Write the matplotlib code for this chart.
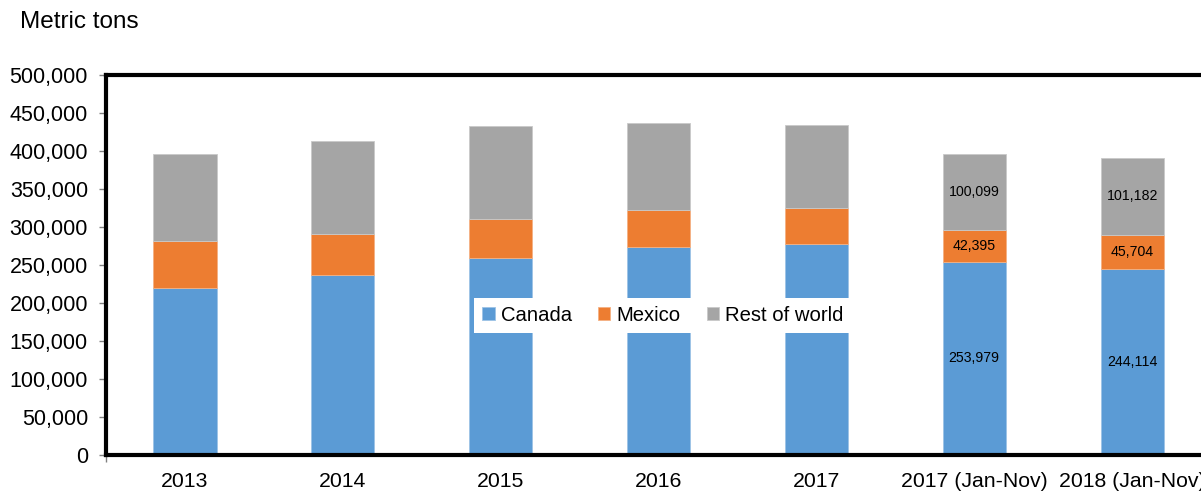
import numpy as np
from matplotlib import pyplot as plt

plt.rcParams['font.family'] = ['Liberation Sans', 'DejaVu Sans']

categories = ['2013', '2014', '2015', '2016', '2017', '2017 (Jan-Nov)', '2018 (Jan-Nov)']
canada = [219800, 236900, 259300, 273700, 277700, 253979, 244114]
mexico = [61800, 53900, 51300, 48700, 47300, 42395, 45704]
rest = [114500, 122400, 122400, 114500, 109300, 100099, 101182]
labelled = [5, 6]

colors = ['#5B9BD5', '#ED7D31', '#A5A5A5']

fig = plt.figure(figsize=(12.01, 4.93), dpi=100)
ax = fig.add_axes([106/1201, 1-455/493, 1105/1201, 380/493])

x = np.arange(len(categories))
w = 0.4
ax.bar(x, canada, w, color=colors[0], label='Canada', edgecolor='#9DC3E6', linewidth=0.6)
ax.bar(x, mexico, w, bottom=canada, color=colors[1], label='Mexico', edgecolor='#F4B183', linewidth=0.6)
bottom2 = np.array(canada) + np.array(mexico)
ax.bar(x, rest, w, bottom=bottom2, color=colors[2], label='Rest of world', edgecolor='#C9C9C9', linewidth=0.6)

for i in labelled:
    ax.text(x[i], canada[i] / 2, f'{canada[i]:,}', ha='center', va='center', fontsize=10.2)
    ax.text(x[i], canada[i] + mexico[i] / 2, f'{mexico[i]:,}', ha='center', va='center', fontsize=10.2)
    ax.text(x[i], bottom2[i] + rest[i] / 2, f'{rest[i]:,}', ha='center', va='center', fontsize=10.2)

ax.set_xlim(-0.5, len(categories) - 0.5)
ax.set_ylim(0, 500000)
ax.set_yticks(np.arange(0, 500001, 50000))
ax.yaxis.set_major_formatter(plt.FuncFormatter(lambda v, p: f'{int(v):,}'))
ax.set_xticks(x)
ax.set_xticklabels(categories)
ax.set_xticks([-0.5], minor=True)
ax.tick_params(axis='x', which='major', length=0, labelsize=15.3, pad=12)
ax.tick_params(axis='x', which='minor', length=5, width=1, color='#808080')
ax.tick_params(axis='y', length=5, width=1, color='#808080', labelsize=15.5, pad=8)

for s in ['top', 'left', 'bottom', 'right']:
    ax.spines[s].set_linewidth(3)
    ax.spines[s].set_color('black')

fig.text(20/1201, 1-22/493, 'Metric tons', fontsize=17.5, ha='left', va='center')

leg = ax.legend(loc='center', bbox_to_anchor=(0.504, 0.368), ncol=3, fontsize=14.6,
                frameon=True, fancybox=False, framealpha=1, edgecolor='white',
                handlelength=0.6, handleheight=0.6, handletextpad=0.3, columnspacing=1.3,
                borderpad=0.4)
leg.get_frame().set_linewidth(0)

fig.savefig('out.png', dpi=100)
